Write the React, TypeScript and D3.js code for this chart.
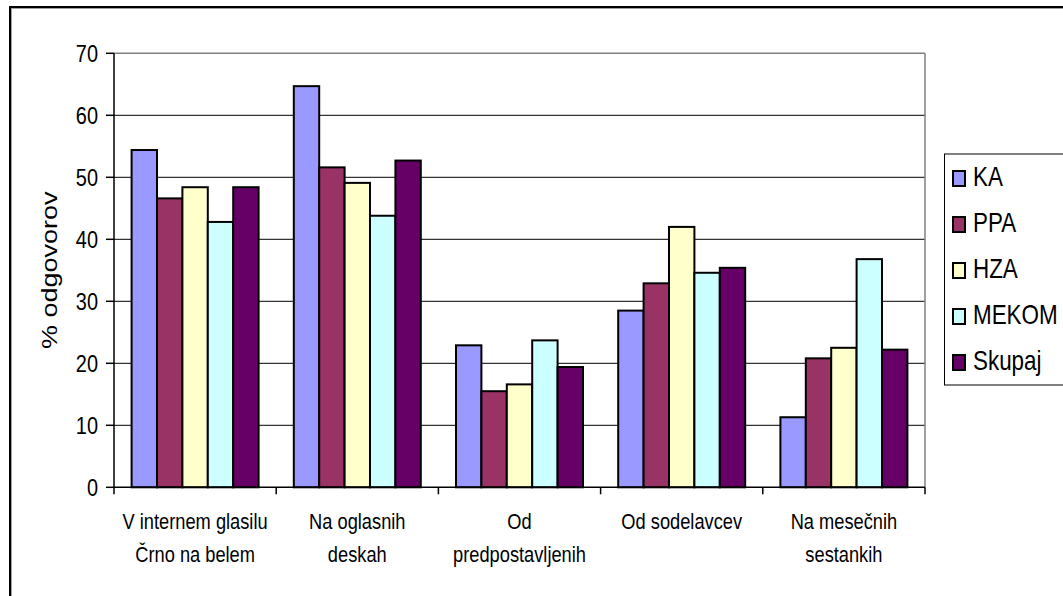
import React from "react";
import * as d3 from "d3";

// Survey: where respondents get their information (% of answers per group)
const categories: string[][] = [
  ["V internem glasilu", "Črno na belem"],
  ["Na oglasnih", "deskah"],
  ["Od", "predpostavljenih"],
  ["Od sodelavcev"],
  ["Na mesečnih", "sestankih"],
];
const seriesNames = ["KA", "PPA", "HZA", "MEKOM", "Skupaj"];
const seriesColors = ["#9999FF", "#993366", "#FFFFCC", "#CCFFFF", "#660066"];
const valuesKA = [54.4, 64.7, 22.9, 28.5, 11.3];
const valuesPPA = [46.6, 51.6, 15.5, 32.9, 20.8];
const valuesHZA = [48.4, 49.1, 16.6, 42.0, 22.5];
const valuesMEKOM = [42.8, 43.8, 23.7, 34.6, 36.8];
const valuesSkupaj = [48.4, 52.7, 19.4, 35.4, 22.2];
const yTicks = [0, 10, 20, 30, 40, 50, 60, 70];
const yTitle = "% odgovorov";

const series = [valuesKA, valuesPPA, valuesHZA, valuesMEKOM, valuesSkupaj];

const W = 1063;
const H = 596;
const plot = { left: 114, right: 925, top: 53.3, bottom: 487.3 };
const FONT = "'Liberation Sans', Arial, sans-serif";
const SX = 0.83; // narrow text rendering

export default function App() {
  const catKeys = categories.map((_, i) => String(i));
  const x0 = d3.scaleBand<string>().domain(catKeys).range([plot.left, plot.right]).padding(0);
  const x1 = d3
    .scaleBand<string>()
    .domain(seriesNames)
    .range([0, x0.bandwidth()])
    .paddingInner(0)
    .paddingOuter(0.693);
  const y = d3.scaleLinear().domain([0, 70]).range([plot.bottom, plot.top]);

  const boundaries = d3.range(categories.length + 1).map((i) =>
    i < categories.length ? (x0(String(i)) as number) : plot.right
  );

  const legendTop = 154;
  const legendStep = 46;

  return (
    <svg
      width={W}
      height={H}
      style={{ position: "absolute", left: 0, top: 0, background: "#fff" }}
      fontFamily={FONT}
    >
      {/* chart frame */}
      <rect x={10} y={7} width={1200} height={800} fill="#fff" stroke="#000" strokeWidth={2} />
      <rect x={11.5} y={8.5} width={1200} height={800} fill="none" stroke="#a0a0a0" strokeWidth={1} />

      {/* gridlines */}
      {yTicks
        .filter((t) => t > 0 && t < 70)
        .map((t) => (
          <line key={t} x1={plot.left} x2={plot.right} y1={y(t)} y2={y(t)} stroke="#000" strokeWidth={1} />
        ))}
      {/* plot area border */}
      <line x1={plot.left} x2={plot.right} y1={y(70)} y2={y(70)} stroke="#808080" strokeWidth={1.5} />
      <line x1={plot.right} x2={plot.right} y1={plot.top} y2={plot.bottom} stroke="#808080" strokeWidth={1.5} />

      {/* bars */}
      {categories.map((_, ci) =>
        seriesNames.map((s, si) => {
          const v = series[si][ci];
          const bx = (x0(String(ci)) as number) + (x1(s) as number);
          return (
            <rect
              key={`${ci}-${si}`}
              x={bx}
              y={y(v)}
              width={x1.bandwidth()}
              height={y(0) - y(v)}
              fill={seriesColors[si]}
              stroke="#000"
              strokeWidth={2}
            />
          );
        })
      )}

      {/* y axis */}
      <line x1={plot.left} x2={plot.left} y1={plot.top} y2={plot.bottom} stroke="#000" strokeWidth={1.5} />
      {yTicks.map((t) => (
        <g key={t}>
          <line x1={plot.left - 8} x2={plot.left} y1={y(t)} y2={y(t)} stroke="#000" strokeWidth={1.5} />
          <text
            transform={`translate(${98},${y(t)}) scale(${SX},1)`}
            textAnchor="end"
            dy="0.35em"
            fontSize={24}
            fill="#000"
          >
            {t}
          </text>
        </g>
      ))}

      {/* x axis */}
      <line x1={plot.left} x2={plot.right} y1={plot.bottom} y2={plot.bottom} stroke="#000" strokeWidth={1.5} />
      {boundaries.map((bx, i) => (
        <line key={i} x1={bx} x2={bx} y1={plot.bottom} y2={plot.bottom + 7} stroke="#000" strokeWidth={1.5} />
      ))}
      {categories.map((lines, ci) => {
        const cx = (x0(String(ci)) as number) + x0.bandwidth() / 2;
        return lines.map((ln, li) => (
          <text
            key={`${ci}-${li}`}
            transform={`translate(${cx},${529 + li * 32.5}) scale(${SX},1)`}
            textAnchor="middle"
            fontSize={22}
            fill="#000"
          >
            {ln}
          </text>
        ));
      })}

      {/* y axis title */}
      <text
        transform={`translate(57,${(plot.top + plot.bottom) / 2}) scale(${SX},1) rotate(-90)`}
        textAnchor="middle"
        fontSize={27}
        fill="#000"
      >
        {yTitle}
      </text>

      {/* legend */}
      <rect x={944.5} y={legendTop} width={200} height={231} fill="#fff" stroke="#000" strokeWidth={1} />
      {seriesNames.map((s, i) => {
        const base = 186 + i * legendStep;
        return (
          <g key={s}>
            <rect x={953} y={base - 15} width={12} height={15} fill={seriesColors[i]} stroke="#000" strokeWidth={2} />
            <text transform={`translate(973,${base}) scale(${SX},1)`} fontSize={27} fill="#000">
              {s}
            </text>
          </g>
        );
      })}
    </svg>
  );
}
